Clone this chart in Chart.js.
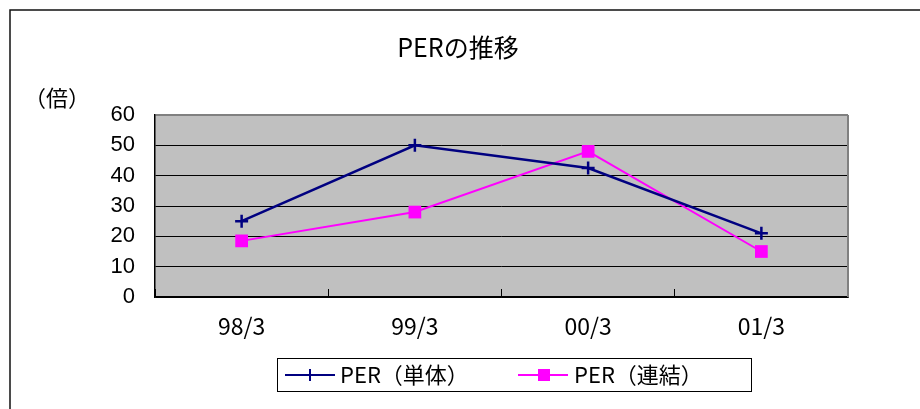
<!DOCTYPE html>
<html>
<head>
<meta charset="utf-8">
<script src="https://cdn.jsdelivr.net/npm/chart.js@4.4.1/dist/chart.umd.min.js"></script>
<style>
  html, body { margin: 0; padding: 0; background: #fff; overflow: hidden; }
  canvas { display: block; }
</style>
</head>
<body>
<canvas id="myChart" width="920" height="409"></canvas>
<script>
// データ
const labels_x = ['98/3', '99/3', '00/3', '01/3']
const per_tantai = [25, 50, 42.5, 21]
const per_renketsu = [18.5, 28, 48, 15]
const name_tantai = 'PER（単体）'
const name_renketsu = 'PER（連結）'
const titulo = 'PERの推移'
const unidade = '（倍）'

const NAVY = '#000080'
const MAGENTA = '#FF00FF'
const JP = '"Noto Sans CJK JP", sans-serif'

// Fundo cinza, título, bordas e legenda desenhados à mão.
const plugin_fundo = {
  id: 'fundo',
  beforeDraw(chart) {
    const {ctx, chartArea: a} = chart
    ctx.save()
    ctx.fillStyle = '#C0C0C0'
    ctx.fillRect(a.left, a.top, a.right - a.left, a.bottom - a.top)
    ctx.restore()
  },
  afterDraw(chart) {
    const {ctx, chartArea: a} = chart
    ctx.save()
    // borda direita da área do gráfico
    ctx.strokeStyle = '#808080'
    ctx.lineWidth = 2
    ctx.beginPath()
    ctx.moveTo(a.right, a.top)
    ctx.lineTo(a.right, a.bottom)
    ctx.stroke()

    // moldura externa
    ctx.strokeStyle = '#111'
    ctx.lineWidth = 1.5
    ctx.beginPath()
    ctx.moveTo(10, 409)
    ctx.lineTo(10, 10)
    ctx.lineTo(920, 10)
    ctx.stroke()

    // título
    ctx.fillStyle = '#000'
    ctx.textBaseline = 'middle'
    ctx.textAlign = 'center'
    ctx.font = '25px ' + JP
    ctx.fillText(titulo, 458, 47)

    // unidade
    ctx.textAlign = 'left'
    ctx.font = '22px ' + JP
    ctx.fillText(unidade, 24, 98)

    // legenda
    ctx.strokeStyle = '#000'
    ctx.lineWidth = 1
    ctx.strokeRect(277.5, 358.5, 474, 33)
    const ly = 375
    ctx.font = '22px ' + JP

    ctx.strokeStyle = NAVY
    ctx.lineWidth = 2
    ctx.beginPath()
    ctx.moveTo(285, ly); ctx.lineTo(335, ly)
    ctx.moveTo(310, ly - 6); ctx.lineTo(310, ly + 6)
    ctx.stroke()
    ctx.fillText(name_tantai, 340, ly)

    ctx.strokeStyle = MAGENTA
    ctx.beginPath()
    ctx.moveTo(518, ly); ctx.lineTo(568, ly)
    ctx.stroke()
    ctx.fillStyle = MAGENTA
    ctx.fillRect(538, ly - 6, 12, 12)
    ctx.fillStyle = '#000'
    ctx.fillText(name_renketsu, 574, ly)
    ctx.restore()
  }
}

const ctx_per = document.getElementById('myChart')

new Chart(ctx_per, {
  type: 'line',
  data: {
    labels: labels_x,
    datasets: [{
      label: name_tantai,
      data: per_tantai,
      borderColor: NAVY,
      backgroundColor: NAVY,
      borderWidth: 2.5,
      pointStyle: 'cross',
      pointRadius: 6.5,
      pointBorderWidth: 2.5,
      tension: 0
    }, {
      label: name_renketsu,
      data: per_renketsu,
      borderColor: MAGENTA,
      backgroundColor: MAGENTA,
      borderWidth: 2,
      pointStyle: 'rect',
      pointRadius: 9,
      pointBorderWidth: 0,
      tension: 0
    }]
  },
  options: {
    responsive: false,
    animation: false,
    layout: { padding: { left: 0, right: 72, top: 115, bottom: 0 } },
    plugins: {
      legend: { display: false },
      tooltip: { enabled: false },
      title: { display: false }
    },
    scales: {
      x: {
        offset: true,
        grid: {
          offset: true,
          drawOnChartArea: false,
          drawTicks: true,
          tickLength: -8,
          color: '#000',
          lineWidth: 1
        },
        border: { color: '#000', width: 1.5 },
        ticks: {
          color: '#000',
          padding: 23,
          maxRotation: 0,
          font: { family: JP, size: 23 }
        },
        afterFit(scale) { scale.height = 112 }
      },
      y: {
        min: 0,
        max: 60,
        ticks: {
          stepSize: 10,
          color: '#000',
          padding: 20,
          font: { family: '"Liberation Sans", Arial, sans-serif', size: 22 }
        },
        grid: {
          drawTicks: false,
          color: (c) => c.tick && c.tick.value === 60 ? '#808080' : '#000',
          lineWidth: (c) => c.tick && c.tick.value === 60 ? 2 : 1
        },
        border: { color: '#000', width: 1.5 },
        afterFit(scale) { scale.width = 155 }
      }
    }
  },
  plugins: [plugin_fundo]
})
</script>
</body>
</html>
